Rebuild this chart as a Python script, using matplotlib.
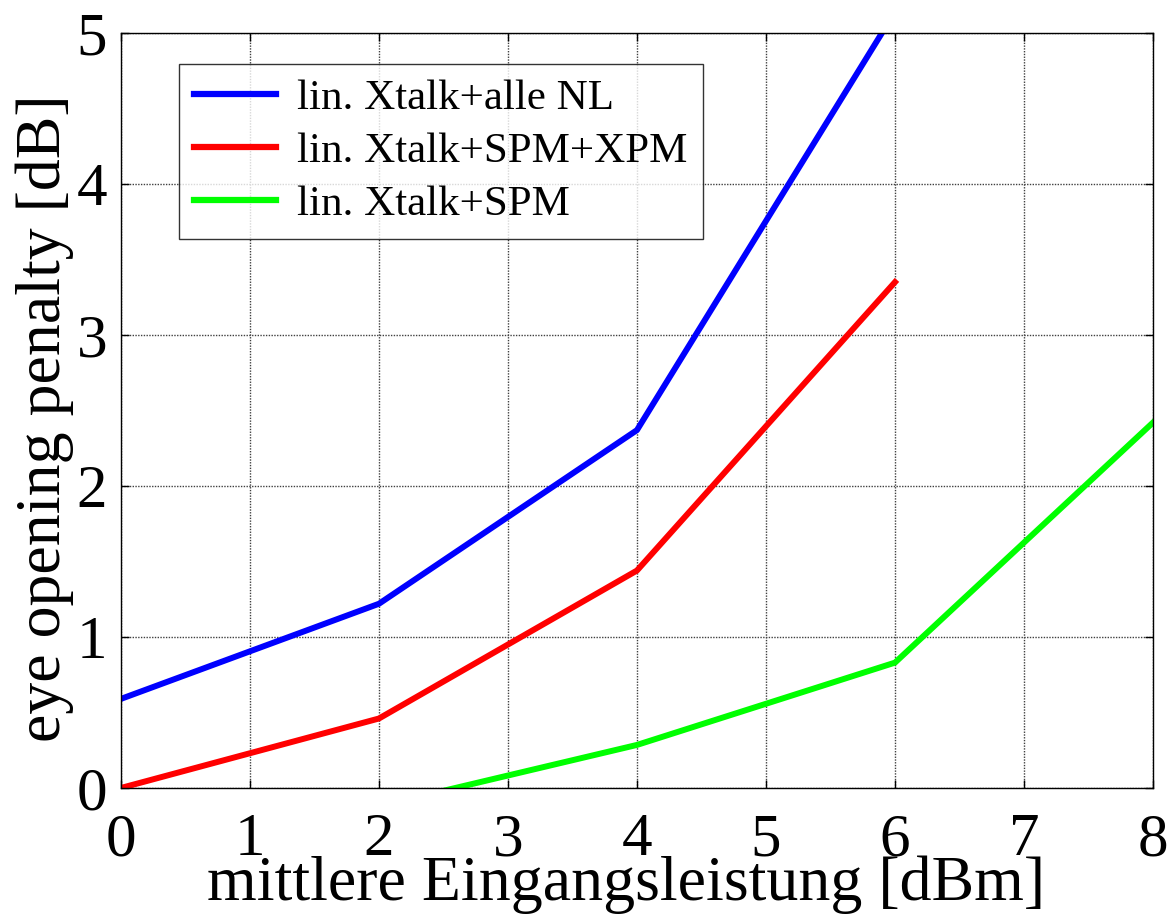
import numpy as np
import matplotlib.pyplot as plt

# data
x_blue = [0, 2, 4, 6]
y_blue = [0.59, 1.22, 2.37, 5.14]
x_red = [0, 2, 4, 6]
y_red = [0.0, 0.46, 1.44, 3.35]
x_green = [2, 4, 6, 8]
y_green = [-0.12, 0.285, 0.83, 2.42]
labels = ['lin. Xtalk+alle NL', 'lin. Xtalk+SPM+XPM', 'lin. Xtalk+SPM']
xticks = list(range(0, 9))
yticks = list(range(0, 6))

plt.rcParams['font.family'] = ['Liberation Serif', 'DejaVu Serif']

fig = plt.figure(figsize=(11.71, 9.14), dpi=100)
ax = fig.add_axes([0.1033, 0.1379, 0.8813, 0.8260])

ax.plot(x_blue, y_blue, color='#0000ff', lw=4.3, label=labels[0])
ax.plot(x_red, y_red, color='#ff0000', lw=4.3, label=labels[1])
ax.plot(x_green, y_green, color='#00ff00', lw=4.3, label=labels[2])

ax.set_xlim(0, 8)
ax.set_ylim(0, 5)
ax.set_xticks(xticks)
ax.set_yticks(yticks)
ax.grid(True, color='0.25', linestyle=(0, (1, 1)), lw=1.0)
ax.tick_params(direction='in', length=6, width=1, top=True, right=True,
               labelsize=44)
ax.tick_params(axis='x', pad=18)
ax.tick_params(axis='y', pad=10)
for s in ax.spines.values():
    s.set_linewidth(1.0)

ax.set_xlabel('mittlere Eingangsleistung [dBm]', fontsize=46)
ax.set_ylabel('eye opening penalty [dB]', fontsize=46)
ax.xaxis.set_label_coords(0.489, -0.148)
ax.yaxis.set_label_coords(-0.074, 0.49)
ax.xaxis.label.set_va('baseline')
ax.yaxis.label.set_va('center')

leg = ax.legend(loc='upper left', bbox_to_anchor=(0.056, 0.959), fontsize=31,
                frameon=True, fancybox=False, edgecolor='black',
                handlelength=1.9, handletextpad=0.5, borderpad=0.35,
                labelspacing=0.32, borderaxespad=0)
leg.get_frame().set_linewidth(1.0)
for h in leg.get_lines():
    h.set_linewidth(4.5)

fig.savefig('out.png', dpi=100)
